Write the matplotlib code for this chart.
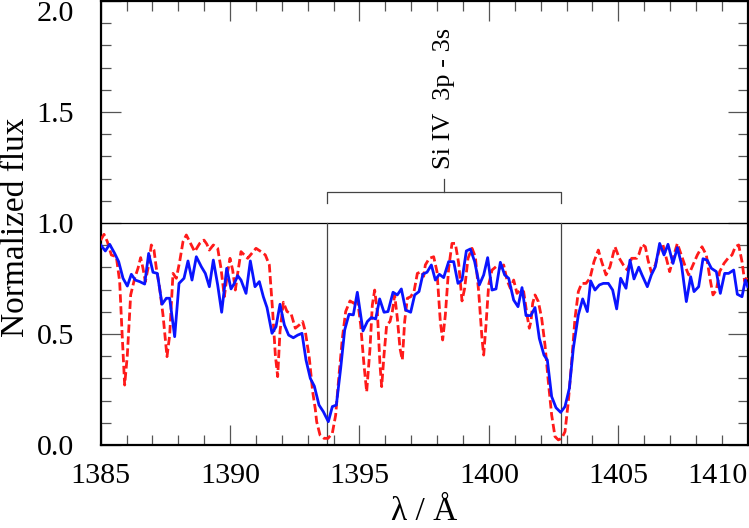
import matplotlib
matplotlib.use("Agg")
import matplotlib.pyplot as plt
from matplotlib.ticker import MultipleLocator

# observed spectrum (blue, solid)
obs_wave = [1385.000, 1385.179, 1385.346, 1385.540, 1385.694, 1385.862, 1386.029, 1386.184,
            1386.338, 1386.506, 1386.699, 1386.853, 1387.021, 1387.188, 1387.369, 1387.536,
            1387.665, 1387.858, 1388.026, 1388.219, 1388.373, 1388.528, 1388.695, 1388.889,
            1389.043, 1389.198, 1389.352, 1389.520, 1389.674, 1389.868, 1390.035, 1390.164,
            1390.293, 1390.421, 1390.615, 1390.782, 1390.962, 1391.130, 1391.284, 1391.426,
            1391.619, 1391.774, 1391.928, 1392.096, 1392.263, 1392.443, 1392.611, 1392.778,
            1392.933, 1393.100, 1393.255, 1393.435, 1393.603, 1393.796, 1393.950, 1394.105,
            1394.272, 1394.427, 1394.594, 1394.762, 1394.916, 1395.135, 1395.303, 1395.457,
            1395.625, 1395.779, 1395.947, 1396.101, 1396.295, 1396.462, 1396.617, 1396.784,
            1396.977, 1397.132, 1397.299, 1397.450, 1397.608, 1397.776, 1397.930, 1398.085,
            1398.252, 1398.445, 1398.639, 1398.806, 1398.961, 1399.128, 1399.283, 1399.450,
            1399.630, 1399.798, 1399.952, 1400.120, 1400.274, 1400.442, 1400.609, 1400.764,
            1400.957, 1401.125, 1401.279, 1401.434, 1401.620, 1401.781, 1401.949, 1402.129,
            1402.258, 1402.425, 1402.593, 1402.773, 1402.940, 1403.108, 1403.262, 1403.456,
            1403.623, 1403.803, 1403.932, 1404.099, 1404.267, 1404.422, 1404.615, 1404.782,
            1404.937, 1405.091, 1405.297, 1405.452, 1405.607, 1405.790, 1405.916, 1406.122,
            1406.276, 1406.431, 1406.598, 1406.766, 1406.920, 1407.113, 1407.281, 1407.435,
            1407.629, 1407.796, 1407.925, 1408.105, 1408.273, 1408.440, 1408.595, 1408.788,
            1408.942, 1409.110, 1409.264, 1409.458, 1409.599, 1409.780, 1409.909, 1410.000]
obs_flux = [0.901, 0.874, 0.904, 0.863, 0.826, 0.751, 0.716, 0.769,
            0.743, 0.736, 0.725, 0.863, 0.778, 0.773, 0.634, 0.661,
            0.661, 0.488, 0.728, 0.751, 0.829, 0.743, 0.848, 0.803,
            0.773, 0.713, 0.833, 0.721, 0.598, 0.796, 0.703, 0.728,
            0.763, 0.743, 0.683, 0.829, 0.713, 0.736, 0.668, 0.619,
            0.503, 0.533, 0.634, 0.541, 0.495, 0.483, 0.495, 0.503,
            0.383, 0.300, 0.265, 0.180, 0.150, 0.105, 0.173, 0.180,
            0.345, 0.518, 0.589, 0.586, 0.688, 0.514, 0.556, 0.574,
            0.568, 0.658, 0.598, 0.601, 0.688, 0.676, 0.703, 0.608,
            0.598, 0.676, 0.691, 0.770, 0.778, 0.811, 0.743, 0.769,
            0.754, 0.826, 0.826, 0.728, 0.743, 0.874, 0.883, 0.826,
            0.721, 0.766, 0.844, 0.698, 0.703, 0.823, 0.766, 0.751,
            0.653, 0.623, 0.709, 0.583, 0.583, 0.619, 0.480, 0.405,
            0.383, 0.218, 0.168, 0.147, 0.173, 0.255, 0.435, 0.586,
            0.658, 0.601, 0.739, 0.698, 0.721, 0.728, 0.728, 0.698,
            0.613, 0.751, 0.706, 0.833, 0.748, 0.801, 0.766, 0.713,
            0.766, 0.803, 0.908, 0.856, 0.904, 0.818, 0.889, 0.818,
            0.646, 0.758, 0.691, 0.713, 0.839, 0.832, 0.796, 0.781,
            0.683, 0.773, 0.773, 0.788, 0.679, 0.668, 0.743, 0.713]

# model spectrum (red, dashed)
mod_wave = [1385.000, 1385.128, 1385.257, 1385.411, 1385.604, 1385.733, 1385.823, 1385.926,
            1386.029, 1386.158, 1386.313, 1386.441, 1386.544, 1386.634, 1386.725, 1386.828,
            1386.956, 1387.059, 1387.150, 1387.279, 1387.407, 1387.562, 1387.665, 1387.794,
            1387.922, 1388.051, 1388.180, 1388.309, 1388.438, 1388.631, 1388.824, 1388.992,
            1389.100, 1389.198, 1389.352, 1389.520, 1389.648, 1389.777, 1389.906, 1389.996,
            1390.099, 1390.202, 1390.293, 1390.421, 1390.550, 1390.679, 1390.834, 1391.001,
            1391.194, 1391.362, 1391.516, 1391.645, 1391.748, 1391.838, 1391.928, 1392.057,
            1392.199, 1392.353, 1392.520, 1392.675, 1392.804, 1392.907, 1393.062, 1393.191,
            1393.294, 1393.345, 1393.474, 1393.628, 1393.783, 1393.950, 1394.079, 1394.208,
            1394.337, 1394.465, 1394.633, 1394.788, 1394.916, 1395.045, 1395.174, 1395.277,
            1395.406, 1395.496, 1395.586, 1395.689, 1395.792, 1395.857, 1395.947, 1396.050,
            1396.179, 1396.269, 1396.359, 1396.462, 1396.565, 1396.655, 1396.745, 1396.848,
            1396.977, 1397.106, 1397.235, 1397.389, 1397.480, 1397.544, 1397.698, 1397.866,
            1397.994, 1398.123, 1398.213, 1398.317, 1398.445, 1398.574, 1398.703, 1398.832,
            1398.961, 1399.064, 1399.192, 1399.347, 1399.476, 1399.605, 1399.733, 1399.798,
            1399.888, 1399.991, 1400.120, 1400.274, 1400.442, 1400.571, 1400.699, 1400.828,
            1400.957, 1401.086, 1401.215, 1401.343, 1401.472, 1401.562, 1401.630, 1401.691,
            1401.781, 1401.910, 1402.039, 1402.168, 1402.296, 1402.425, 1402.554, 1402.683,
            1402.812, 1402.940, 1403.069, 1403.198, 1403.327, 1403.456, 1403.584, 1403.752,
            1403.906, 1404.061, 1404.228, 1404.357, 1404.525, 1404.679, 1404.872, 1405.040,
            1405.195, 1405.349, 1405.516, 1405.710, 1405.800, 1405.916, 1406.044, 1406.148,
            1406.276, 1406.431, 1406.598, 1406.727, 1406.856, 1406.985, 1407.152, 1407.281,
            1407.435, 1407.590, 1407.719, 1407.886, 1408.054, 1408.234, 1408.401, 1408.530,
            1408.659, 1408.788, 1408.917, 1409.084, 1409.238, 1409.393, 1409.522, 1409.651,
            1409.780, 1409.883, 1409.986]
mod_flux = [0.923, 0.949, 0.916, 0.856, 0.848, 0.736, 0.511, 0.270,
            0.405, 0.676, 0.751, 0.796, 0.844, 0.796, 0.736, 0.796,
            0.901, 0.878, 0.796, 0.706, 0.586, 0.398, 0.495, 0.773,
            0.751, 0.826, 0.916, 0.946, 0.916, 0.871, 0.908, 0.923,
            0.905, 0.878, 0.901, 0.886, 0.796, 0.668, 0.781, 0.841,
            0.788, 0.698, 0.773, 0.871, 0.856, 0.841, 0.863, 0.886,
            0.871, 0.856, 0.811, 0.601, 0.405, 0.308, 0.511, 0.643,
            0.601, 0.593, 0.526, 0.541, 0.556, 0.511, 0.390, 0.240,
            0.160, 0.105, 0.045, 0.030, 0.030, 0.053, 0.135, 0.315,
            0.480, 0.601, 0.649, 0.638, 0.661, 0.541, 0.360, 0.240,
            0.435, 0.631, 0.698, 0.601, 0.360, 0.263, 0.405, 0.541,
            0.556, 0.601, 0.676, 0.571, 0.435, 0.383, 0.556, 0.661,
            0.668, 0.691, 0.773, 0.781, 0.760, 0.811, 0.841, 0.848,
            0.781, 0.556, 0.473, 0.586, 0.796, 0.908, 0.908, 0.818,
            0.649, 0.706, 0.841, 0.886, 0.848, 0.691, 0.480, 0.405,
            0.541, 0.721, 0.788, 0.803, 0.796, 0.811, 0.743, 0.706,
            0.743, 0.683, 0.698, 0.691, 0.586, 0.526, 0.560, 0.638,
            0.676, 0.646, 0.571, 0.450, 0.285, 0.135, 0.038, 0.023,
            0.030, 0.060, 0.195, 0.375, 0.571, 0.691, 0.728, 0.728,
            0.751, 0.826, 0.878, 0.826, 0.766, 0.803, 0.893, 0.841,
            0.811, 0.788, 0.841, 0.841, 0.860, 0.904, 0.893, 0.833,
            0.778, 0.811, 0.886, 0.901, 0.841, 0.781, 0.856, 0.908,
            0.856, 0.803, 0.766, 0.811, 0.856, 0.893, 0.856, 0.758,
            0.676, 0.698, 0.781, 0.818, 0.841, 0.856, 0.893, 0.901,
            0.826, 0.736, 0.758]

# Si IV doublet
line_waves = [1393.76, 1402.77]
line_label = "Si IV  3p - 3s"

x_ticks = [1385, 1390, 1395, 1400, 1405, 1410]
y_ticks = [0.0, 0.5, 1.0, 1.5, 2.0]

plt.rcParams["font.family"] = ["Liberation Serif", "DejaVu Serif"]

fig = plt.figure(figsize=(7.49, 5.28), dpi=100)
ax = fig.add_axes([100.7 / 749, 83 / 528, 647 / 749, 444 / 528])

ax.plot(mod_wave, mod_flux, color="#ff1a1a", lw=2.0, linestyle=(0, (3, 1.3)), zorder=3)
ax.plot(obs_wave, obs_flux, color="#0a14ff", lw=2.0, zorder=4)

# continuum and line markers
ax.axhline(1.0, color="black", lw=0.9, zorder=2)
for w in line_waves:
    ax.plot([w, w], [0, 1.0], color="#444444", lw=0.9, zorder=2)

# bracket for the doublet
mid = sum(line_waves) / 2
ax.plot([line_waves[0], line_waves[0], line_waves[1], line_waves[1]],
        [1.09, 1.138, 1.138, 1.09], color="#444444", lw=0.9)
ax.plot([mid, mid], [1.138, 1.20], color="#444444", lw=0.9)
ax.text(mid, 1.245, line_label, rotation=90, ha="center", va="bottom", fontsize=19)

ax.set_xlim(1385, 1410)
ax.set_ylim(0, 2.0)
ax.xaxis.set_minor_locator(MultipleLocator(1))
ax.yaxis.set_minor_locator(MultipleLocator(0.1))

ax.tick_params(which="both", direction="in", top=True, right=True,
               color="#555555", width=0.9, labelsize=21.6)
ax.tick_params(which="major", length=14.5)
ax.tick_params(which="minor", length=7.2)
ax.tick_params(axis="x", pad=13)
ax.tick_params(axis="y", pad=19)

xt = ax.set_xticks(x_ticks, labels=[str(v) for v in x_ticks])
yt = ax.set_yticks(y_ticks, labels=["%.1f" % v for v in y_ticks])
# keep the edge labels inside the picture
xt[-1].label1.set_horizontalalignment("right")
yt[-1].label1.set_verticalalignment("top")

for s in ax.spines.values():
    s.set_linewidth(1.6)

fig.text(1 / 749, 1 - 227 / 528, "Normalized flux", rotation=90, ha="left", va="center",
         fontsize=24)
fig.text(424 / 749, 1 / 528, "λ / Å", ha="center", va="bottom", fontsize=24)

fig.savefig("out.png", dpi=100)
